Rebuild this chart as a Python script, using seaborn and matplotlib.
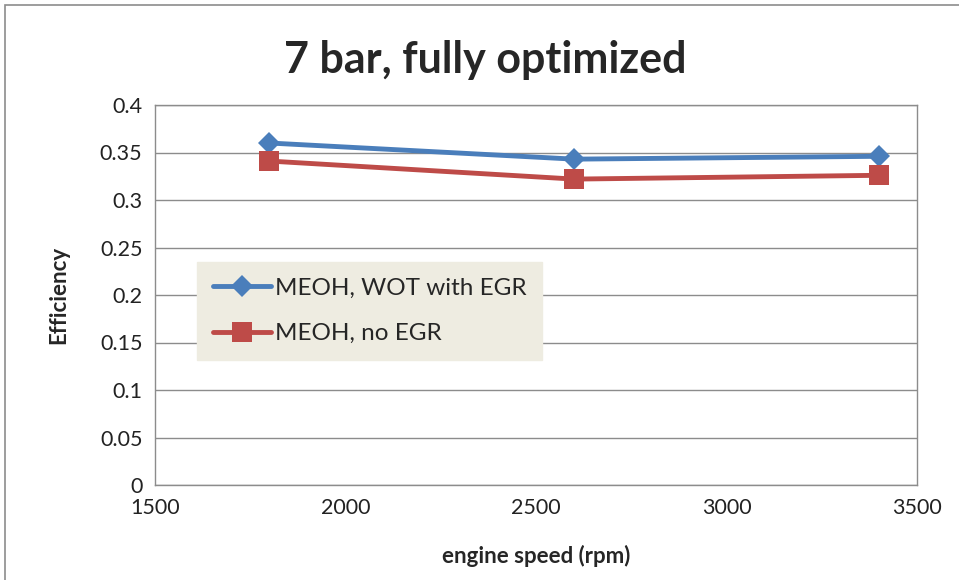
import matplotlib
matplotlib.use("Agg")
import matplotlib.pyplot as plt
import seaborn as sns
import pandas as pd
from matplotlib.patches import Rectangle

# data
speeds = [1800, 2600, 3400]
eff_egr = [0.360, 0.343, 0.346]
eff_no_egr = [0.341, 0.322, 0.326]
series_names = ["MEOH, WOT with EGR", "MEOH, no EGR"]
x_ticks = [1500, 2000, 2500, 3000, 3500]
y_ticks = [0, 0.05, 0.1, 0.15, 0.2, 0.25, 0.3, 0.35, 0.4]

df = pd.DataFrame({
    "speed": speeds * 2,
    "eff": eff_egr + eff_no_egr,
    "series": [series_names[0]] * 3 + [series_names[1]] * 3,
})

sns.set_style("white")
plt.rcParams["font.family"] = ["Lato", "DejaVu Sans"]

W, H = 959, 580
fig = plt.figure(figsize=(W / 100, H / 100), dpi=100)
ax = fig.add_axes([155 / W, 1 - 485 / H, (917 - 155) / W, (485 - 105) / H])

palette = {series_names[0]: "#4a7ebb", series_names[1]: "#be4b48"}
markers = {series_names[0]: "D", series_names[1]: "s"}
sizes = {series_names[0]: 11, series_names[1]: 15}
for name in series_names:
    sub = df[df["series"] == name]
    sns.lineplot(data=sub, x="speed", y="eff", ax=ax, color=palette[name],
                 marker=markers[name], markersize=sizes[name], linewidth=3.5,
                 markeredgewidth=0, label=name)

ax.set_xlim(1500, 3500)
ax.set_ylim(0, 0.4)
ax.set_xticks(x_ticks)
ax.set_yticks(y_ticks)
ax.set_yticklabels(["0", "0.05", "0.1", "0.15", "0.2", "0.25", "0.3", "0.35", "0.4"])
ax.tick_params(axis="both", labelsize=15.5, colors="#222222", length=5,
               direction="out", width=1, pad=4)
ax.tick_params(axis="both", color="#888888")
ax.yaxis.grid(True, color="#8c8c8c", linewidth=1)
ax.xaxis.grid(False)
for s in ax.spines.values():
    s.set_color("#8c8c8c")
    s.set_linewidth(1)
ax.set_axisbelow(True)

ax.set_xlabel("engine speed (rpm)", fontsize=16, fontweight="bold", labelpad=20)
ax.set_ylabel("Efficiency", fontsize=16, fontweight="bold", labelpad=22)
fig.text(485 / W, 1 - 60 / H, "7 bar, fully optimized", fontsize=31,
         fontweight="bold", ha="center", va="center")

leg = ax.legend(loc="upper left", bbox_to_anchor=((197 - 155) / 762, (485 - 262) / 380),
                fontsize=17.5, frameon=True, fancybox=False, handlelength=2.4,
                borderpad=0.65, labelspacing=1.0, handletextpad=0.15,
                borderaxespad=0)
leg.get_frame().set_facecolor("#eeece1")
leg.get_frame().set_edgecolor("#eeece1")
leg.get_frame().set_alpha(1)

# outer chart border (cut off right/bottom like the reference)
fig.patches.append(Rectangle((5 / W, -0.1), 1.2, 1 - 5 / H + 0.1,
                             transform=fig.transFigure, fill=False,
                             edgecolor="#8c8c8c", linewidth=1.2))

fig.savefig("out.png", dpi=100, facecolor="white")
